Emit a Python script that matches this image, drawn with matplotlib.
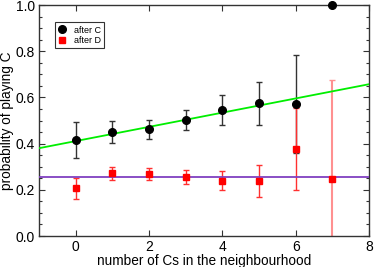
import numpy as np
import matplotlib
matplotlib.use('Agg')
import matplotlib.pyplot as plt
from matplotlib.ticker import MultipleLocator

plt.rcParams['font.family'] = ['Liberation Sans', 'DejaVu Sans']

# number of C neighbours
n_c = [0, 1, 2, 3, 4, 5, 6, 7]

# probability of playing C after C, with error
p_after_c = [0.416, 0.449, 0.462, 0.502, 0.545, 0.574, 0.570, 1.0]
err_after_c = [0.078, 0.048, 0.040, 0.045, 0.064, 0.093, 0.212, 0.0]

# probability of playing C after D, with error
p_after_d = [0.206, 0.271, 0.267, 0.255, 0.240, 0.237, 0.377, 0.247]
err_after_d = [0.044, 0.029, 0.026, 0.029, 0.042, 0.070, 0.177, 0.427]

# linear fit for after C, constant fit for after D
fit_c_slope = 0.0308
fit_c_icept = 0.411
fit_d_const = 0.257

fig = plt.figure(figsize=(3.74, 2.67), dpi=100)
ax = fig.add_axes([0.104, 0.116, 0.883, 0.865])

# error bars first
ax.errorbar(n_c, p_after_c, yerr=err_after_c, fmt='none', ecolor='#333333',
            elinewidth=1.0, capsize=2.5, capthick=1.0, zorder=2)
ax.errorbar(n_c[:7], p_after_d[:7], yerr=err_after_d[:7], fmt='none', ecolor='#ff3030',
            elinewidth=1.0, capsize=2.5, capthick=1.0, zorder=2)
ax.errorbar(n_c[7:], p_after_d[7:], yerr=err_after_d[7:], fmt='none', ecolor='#ff9090',
            elinewidth=1.5, capsize=2.5, capthick=1.0, zorder=2)

xfit = np.array([-1, 8])
ax.plot(xfit, fit_c_icept + fit_c_slope * xfit, color='#00ee00', lw=1.3, zorder=3)
ax.plot(xfit, [fit_d_const, fit_d_const], color='#8040c0', lw=1.3, zorder=3)

ax.plot(n_c, p_after_d, 's', color='#ff0000', ms=4.5, mec='#ff0000',
        label='after D', zorder=4, clip_on=False)
ax.plot(n_c, p_after_c, 'o', color='black', ms=5.5, label='after C',
        zorder=5, clip_on=False)

ax.set_xlim(-1, 8)
ax.set_ylim(0, 1)
ax.xaxis.set_major_locator(MultipleLocator(2))
ax.yaxis.set_major_locator(MultipleLocator(0.2))
ax.yaxis.set_minor_locator(MultipleLocator(0.05))
ax.yaxis.set_major_formatter(plt.FormatStrFormatter('%.1f'))
ax.tick_params(which='both', direction='in', top=True, right=True,
               labelsize=10, width=0.8, color='#333333')
ax.tick_params(which='major', length=4, pad=3)
ax.tick_params(which='minor', length=2)
for s in ax.spines.values():
    s.set_linewidth(1.0)
    s.set_color('#333333')

ax.set_xlabel('number of Cs in the neighbourhood', fontsize=9.8, labelpad=0)
ax.set_ylabel('probability of playing C', fontsize=9.8, labelpad=1)

handles, labels = ax.get_legend_handles_labels()
leg = ax.legend(handles[::-1], labels[::-1], loc='upper left',
                bbox_to_anchor=(0.048, 0.925), fontsize=6.5, frameon=True,
                fancybox=False, edgecolor='black', handlelength=1.0,
                handletextpad=0.8, borderpad=0.35, labelspacing=0.15,
                borderaxespad=0)
leg.get_frame().set_linewidth(0.8)

fig.savefig('out.png', dpi=100)
